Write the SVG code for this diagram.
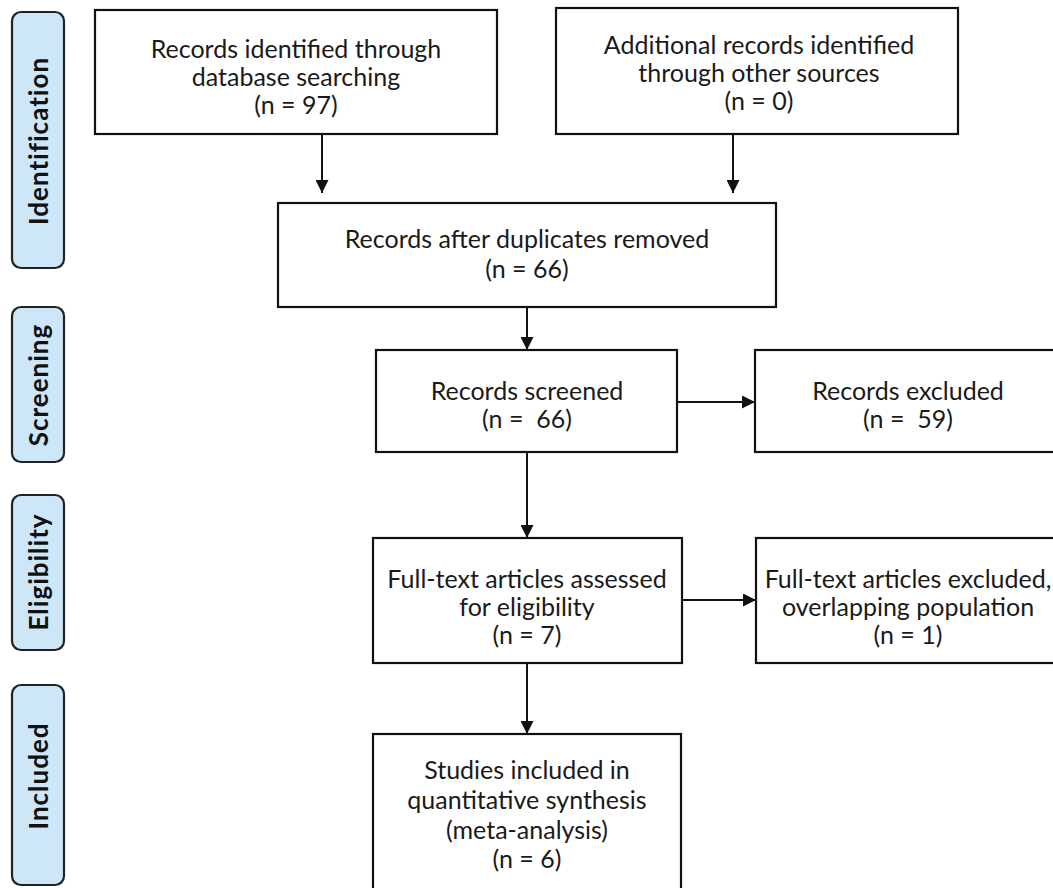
<svg xmlns="http://www.w3.org/2000/svg" width="1053" height="888" viewBox="0 0 1053 888">
<defs>
<style>
.phase rect{fill:#cde6f8;stroke:#222;stroke-width:2.2}
.phase text{font-family:Lato,"Liberation Sans",sans-serif;font-weight:bold;font-size:26px;letter-spacing:1px;fill:#111;text-anchor:middle}
.node rect{fill:#fff;stroke:#111;stroke-width:2.2}
.node text{font-family:Lato,"Liberation Sans",sans-serif;font-size:25px;fill:#1a1a1a;text-anchor:middle;white-space:pre}
.conn line{stroke:#111;stroke-width:2}
</style>
<marker id="ah" viewBox="0 0 13 13" refX="13" refY="6.5" markerWidth="13" markerHeight="13" markerUnits="userSpaceOnUse" orient="auto">
<path d="M0,0 L13,6.5 L0,13 Z" fill="#111"/>
</marker>
</defs>
<rect width="1053" height="888" fill="#fff"/>

<g id="phase-identification" class="phase">
<rect x="12" y="12" width="52" height="256" rx="9"/>
<text transform="translate(48,141) rotate(-90)">Identification</text>
</g>
<g id="phase-screening" class="phase">
<rect x="12" y="307" width="52" height="155" rx="9"/>
<text transform="translate(48,385) rotate(-90)">Screening</text>
</g>
<g id="phase-eligibility" class="phase">
<rect x="12" y="495" width="52" height="155" rx="9"/>
<text transform="translate(48,572) rotate(-90)">Eligibility</text>
</g>
<g id="phase-included" class="phase">
<rect x="12" y="685" width="52" height="200" rx="9"/>
<text transform="translate(48,776) rotate(-90)">Included</text>
</g>

<g id="n-database" class="node">
<rect x="95" y="10" width="402" height="124"/>
<text x="296" y="58">Records identified through</text>
<text x="296" y="86">database searching</text>
<text x="296" y="114">(n = 97)</text>
</g>
<g id="n-other" class="node">
<rect x="556" y="8" width="402" height="126"/>
<text x="759" y="54">Additional records identified</text>
<text x="759" y="82">through other sources</text>
<text x="759" y="110">(n = 0)</text>
</g>
<g id="n-dedup" class="node">
<rect x="278" y="203" width="498" height="104"/>
<text x="527" y="248">Records after duplicates removed</text>
<text x="527" y="278">(n = 66)</text>
</g>
<g id="n-screened" class="node">
<rect x="376" y="350" width="301" height="102"/>
<text x="527" y="400">Records screened</text>
<text x="527" y="428" xml:space="preserve">(n =  66)</text>
</g>
<g id="n-excluded" class="node">
<rect x="755" y="350" width="310" height="102"/>
<text x="908" y="400">Records excluded</text>
<text x="908" y="428" xml:space="preserve">(n =  59)</text>
</g>
<g id="n-fulltext" class="node">
<rect x="373" y="538" width="309" height="125"/>
<text x="527" y="588">Full-text articles assessed</text>
<text x="527" y="616">for eligibility</text>
<text x="527" y="644">(n = 7)</text>
</g>
<g id="n-ftexcluded" class="node">
<rect x="756" y="538" width="310" height="125"/>
<text x="908" y="588">Full-text articles excluded,</text>
<text x="908" y="616">overlapping population</text>
<text x="908" y="644">(n = 1)</text>
</g>
<g id="n-included" class="node">
<rect x="373" y="734" width="308" height="170"/>
<text x="527" y="779">Studies included in</text>
<text x="527" y="809">quantitative synthesis</text>
<text x="527" y="839">(meta-analysis)</text>
<text x="527" y="868">(n = 6)</text>
</g>

<g id="connectors" class="conn">
<line x1="322" y1="134" x2="322" y2="193" marker-end="url(#ah)"/>
<line x1="733" y1="134" x2="733" y2="193" marker-end="url(#ah)"/>
<line x1="527" y1="307" x2="527" y2="350" marker-end="url(#ah)"/>
<line x1="527" y1="452" x2="527" y2="538" marker-end="url(#ah)"/>
<line x1="527" y1="663" x2="527" y2="734" marker-end="url(#ah)"/>
<line x1="677" y1="402" x2="755" y2="402" marker-end="url(#ah)"/>
<line x1="682" y1="600" x2="756" y2="600" marker-end="url(#ah)"/>
</g>
</svg>
